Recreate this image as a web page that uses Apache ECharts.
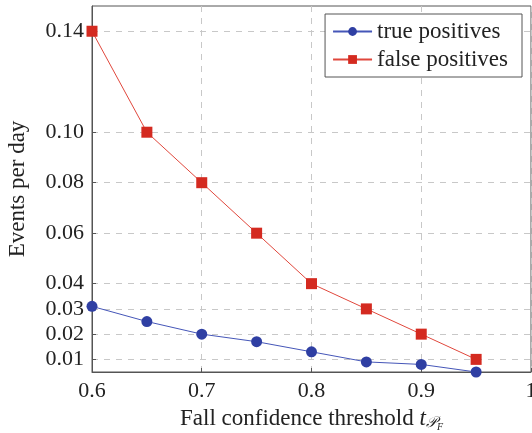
<html>
<head>
    <meta charset='utf-8' />
    <script src="https://cdn.jsdelivr.net/npm/echarts@6/dist/echarts.min.js"></script>
    <style>
        body { margin: 0; background: #fff; }
        #chart { width: 532px; height: 433px; }
    </style>
</head>
<body>
    <div id="chart"></div>
    <script type="text/javascript">
        var thresholds = [0.6, 0.65, 0.7, 0.75, 0.8, 0.85, 0.9, 0.95];
        var truePositives = [0.031, 0.025, 0.020, 0.017, 0.013, 0.009, 0.008, 0.005];
        var falsePositives = [0.14, 0.10, 0.08, 0.06, 0.04, 0.03, 0.02, 0.01];
        var yTicks = [0.01, 0.02, 0.03, 0.04, 0.06, 0.08, 0.10, 0.14];
        var yTickLabels = ['0.01', '0.02', '0.03', '0.04', '0.06', '0.08', '0.10', '0.14'];

        var serif = '"Liberation Serif", "DejaVu Serif", serif';

        function pairs(ys) {
            return thresholds.map(function(x, i) { return [x, ys[i]]; });
        }

        var chart = echarts.init(document.getElementById('chart'));
        var option = {
            animation: false,
            textStyle: { fontFamily: serif, color: '#222' },
            grid: {
                left: 92, right: 1, top: 6, bottom: 61,
                outerBoundsMode: 'none',
                containLabel: false,
                show: true, borderColor: '#555', borderWidth: 1
            },
            legend: {
                orient: 'vertical',
                right: 10, top: 14,
                backgroundColor: '#fff',
                borderColor: '#555', borderWidth: 1,
                padding: [6, 14, 6, 7],
                itemGap: 5,
                itemWidth: 39, itemHeight: 11,
                textStyle: { fontFamily: serif, fontSize: 23, color: '#222' },
                data: ['true positives', 'false positives']
            },
            xAxis: {
                type: 'value',
                min: 0.6, max: 1.0, interval: 0.1,
                name: '{n|Fall confidence threshold }{t|t}{p|𝒫}{f|F}',
                nameLocation: 'middle',
                nameGap: 34,
                nameTextStyle: {
                    fontFamily: serif, fontSize: 23, color: '#222',
                    rich: {
                        n: { fontFamily: serif, fontSize: 23, color: '#222' },
                        t: { fontFamily: serif, fontSize: 23, fontStyle: 'italic', color: '#222' },
                        p: { fontFamily: serif, fontSize: 15, fontStyle: 'italic', color: '#222', padding: [8, 0, 0, 0] },
                        f: { fontFamily: serif, fontSize: 10, fontStyle: 'italic', color: '#222', padding: [16, 0, 0, 0] }
                    }
                },
                axisLine: { lineStyle: { color: '#555' } },
                axisTick: { show: true, inside: true, length: 4, lineStyle: { color: '#555' } },
                axisLabel: {
                    fontSize: 22, color: '#222', margin: 8,
                    formatter: function(v) { return Math.abs(v - 1) < 1e-9 ? '1' : v.toFixed(1); }
                },
                splitLine: { show: true, lineStyle: { color: '#c8c8c8', type: [6, 6] } }
            },
            yAxis: {
                type: 'value',
                min: 0.005, max: 0.15,
                name: 'Events per day',
                nameLocation: 'middle',
                nameGap: 63,
                nameTextStyle: { fontFamily: serif, fontSize: 23, color: '#222' },
                axisLine: { show: true, lineStyle: { color: '#555' } },
                axisTick: { show: true, inside: true, length: 4, customValues: yTicks, lineStyle: { color: '#555' } },
                axisLabel: {
                    fontSize: 22, color: '#222', margin: 8,
                    customValues: yTicks,
                    formatter: function(v) {
                        var i = yTicks.findIndex(function(t) { return Math.abs(t - v) < 1e-9; });
                        return i >= 0 ? yTickLabels[i] : '';
                    }
                },
                splitLine: { show: true, lineStyle: { color: '#c8c8c8', type: [6, 6] } }
            },
            series: [{
                name: 'true positives',
                type: 'line',
                data: pairs(truePositives),
                symbol: 'circle',
                symbolSize: 11,
                itemStyle: { color: '#2f3fa3' },
                lineStyle: { color: '#4556b8', width: 1 },
                z: 3
            }, {
                name: 'false positives',
                type: 'line',
                data: pairs(falsePositives),
                symbol: 'rect',
                symbolSize: 11,
                itemStyle: { color: '#d42a20' },
                lineStyle: { color: '#e0473c', width: 1 },
                z: 4
            }]
        };
        chart.setOption(option);
    </script>
</body>
</html>
